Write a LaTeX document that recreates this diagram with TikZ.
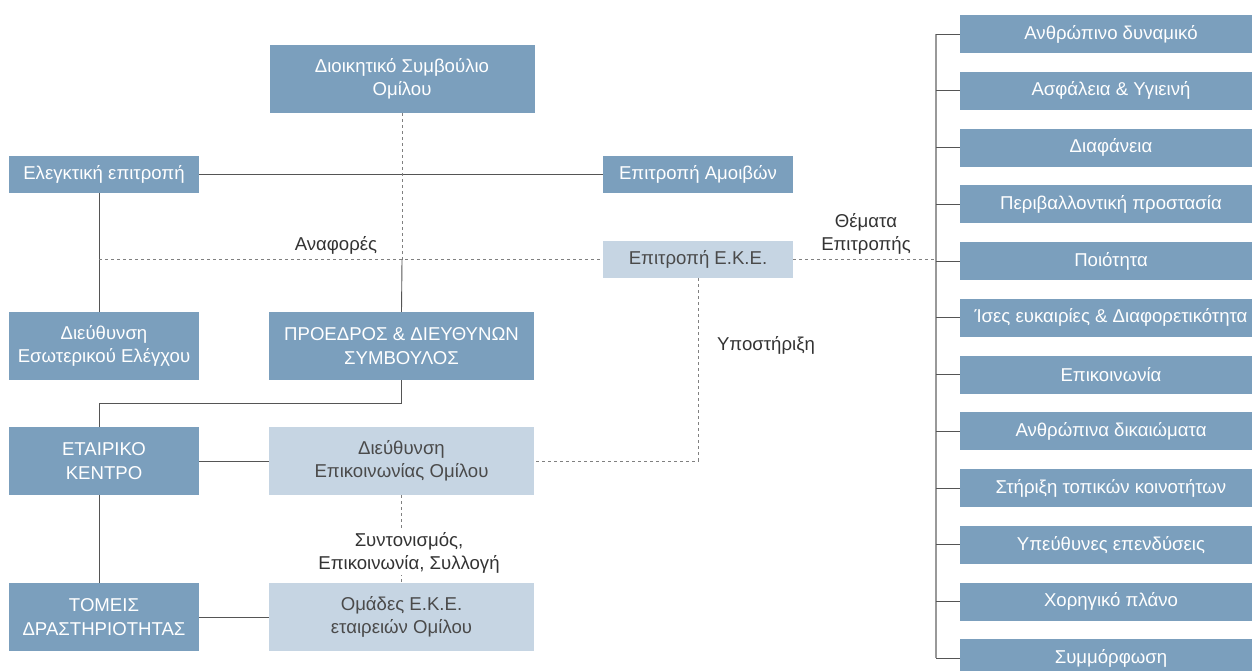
\documentclass[tikz,border=0pt]{standalone}
\usepackage{fontspec}
\setmainfont{Liberation Sans}
\definecolor{darkbox}{HTML}{7B9FBD}
\definecolor{lightbox}{HTML}{C6D5E3}
\definecolor{linegray}{HTML}{555555}
\definecolor{dashgray}{HTML}{808080}
\definecolor{labelgray}{HTML}{333333}
\definecolor{lighttext}{HTML}{4A4A4A}
\begin{document}
\begin{tikzpicture}[x=1pt,y=-1pt,
  box/.style={rectangle,inner sep=0pt,align=center,font=\fontsize{18.6}{23.5}\selectfont},
  dbox/.style={box,fill=darkbox,text=white},
  lbox/.style={box,fill=lightbox,text=lighttext},
  wide/.style={minimum width=265pt,minimum height=68pt},
  narrow/.style={minimum width=190pt,minimum height=68pt},
  thin/.style={minimum width=190pt,minimum height=37pt},
  rbox/.style={dbox,minimum width=302pt,minimum height=38pt},
  conn/.style={draw=linegray,line width=0.9pt},
  dconn/.style={draw=dashgray,line width=0.9pt,dash pattern=on 3pt off 3pt},
  lab/.style={text=labelgray,align=center,font=\fontsize{18.6}{23.5}\selectfont,inner sep=1pt}
]
\useasboundingbox (0,0) rectangle (1252,670);
\clip (0,0) rectangle (1252,670);

% left / middle nodes
\node[dbox,wide] (board) at (402,79) {Διοικητικό Συμβούλιο\\Ομίλου};
\node[dbox,thin] (audit) at (104,174.5) {Ελεγκτική επιτροπή};
\node[dbox,thin] (remun) at (698,174.5) {Επιτροπή Αμοιβών};
\node[lbox,thin] (csr) at (698,259.5) {Επιτροπή Ε.Κ.Ε.};
\node[dbox,narrow] (internal) at (104,346) {Διεύθυνση\\Εσωτερικού Ελέγχου};
\node[dbox,wide] (ceo) at (401.5,346) {ΠΡΟΕΔΡΟΣ \& ΔΙΕΥΘΥΝΩΝ\\ΣΥΜΒΟΥΛΟΣ};
\node[dbox,narrow] (corp) at (104,461) {ΕΤΑΙΡΙΚΟ\\ΚΕΝΤΡΟ};
\node[lbox,wide] (comm) at (401.5,461) {Διεύθυνση\\Επικοινωνίας Ομίλου};
\node[dbox,narrow] (sectors) at (104,617) {ΤΟΜΕΙΣ\\ΔΡΑΣΤΗΡΙΟΤΗΤΑΣ};
\node[lbox,wide] (teams) at (401.5,617) {Ομάδες Ε.Κ.Ε.\\εταιρειών Ομίλου};

% right column
\foreach \i/\t in {1/Ανθρώπινο δυναμικό,2/Ασφάλεια \& Υγιεινή,3/Διαφάνεια,4/Περιβαλλοντική προστασία,5/Ποιότητα,6/Ίσες ευκαιρίες \& Διαφορετικότητα,7/Επικοινωνία,8/Ανθρώπινα δικαιώματα,9/Στήριξη τοπικών κοινοτήτων,10/Υπεύθυνες επενδύσεις,11/Χορηγικό πλάνο,12/Συμμόρφωση}{
  \node[rbox] (r\i) at (1111,{34+56.75*(\i-1)}) {\t};
}

\coordinate (aL) at (99,0);
\coordinate (tL) at (936,0);

% solid connectors
\draw[conn] (audit.east) -- (remun.west);
\draw[conn] (audit.south -| aL) -- (internal.north -| aL);
\draw[conn] (board.south |- csr.west) -- (ceo.north);
\draw[conn] (ceo.south) -- ++(0,23) coordinate (cb) -| (corp.north -| aL);
\draw[conn] (corp.east) -- (comm.west);
\draw[conn] (corp.south -| aL) -- (sectors.north -| aL);
\draw[conn] (sectors.east) -- (teams.west);

% dashed connectors
\draw[dconn] (board.south) -- (board.south |- csr.west);
\draw[dconn] (csr.west -| aL) -- (csr.west);
\draw[dconn] (csr.south) -- (csr.south |- comm.east) -- (comm.east);
\draw[dconn] (comm.south) -- (teams.north);
\draw[dconn] (csr.east) -- (csr.east -| tL);

% tree
\draw[draw=gray!80,line width=1.2pt] (r1.west -| tL) -- (r12.west -| tL);
\foreach \i in {1,...,12}{
  \draw[conn] (r\i.west -| tL) -- (r\i.west);
}

% labels
\node[lab] (l1) at (336,245) {Αναφορές};
\node[lab] (l2) at (866,234) {Θέματα\\Επιτροπής};
\node[lab] (l3) at (766,345) {Υποστήριξη};
\node[lab,fill=white] (l4) at (409,553) {Συντονισμός,\\Επικοινωνία, Συλλογή};
\end{tikzpicture}
\end{document}
